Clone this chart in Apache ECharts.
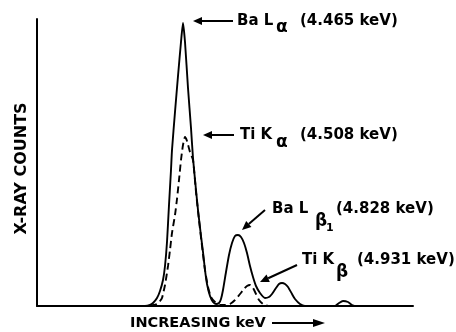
<!DOCTYPE html>
<html>
<head>
<meta charset="utf-8">
<script src="https://cdn.jsdelivr.net/npm/echarts@6/dist/echarts.min.js"></script>
<style>
html, body { margin: 0; padding: 0; background: #fff; }
#main { width: 456px; height: 332px; }
</style>
</head>
<body>
<div id="main"></div>
<script>
// traces, [channel, counts] (arbitrary units)
const solidTrace = [
  [0, 0], [108, 0], [113, 1], [116, 3], [120, 8], [123, 15], [126, 26], [128, 40],
  [130, 64], [132, 101], [134, 136], [135, 156], [138, 194], [141, 230], [144, 264],
  [146, 283], [148, 264], [151, 218], [154, 178], [156, 148], [159, 116], [161, 96],
  [164, 70], [166, 54], [168, 36], [170, 22], [173, 10], [176, 4], [179, 2], [182, 3],
  [184, 7], [186, 16], [189, 34], [192, 51], [195, 63], [198, 70], [201, 71], [204, 69],
  [207, 63], [210, 53], [213, 40], [216, 29], [219, 20], [223, 13], [228, 8], [232, 9],
  [235, 12], [239, 18], [242, 22], [245, 23], [248, 22], [251, 19], [255, 12], [258, 7],
  [263, 2], [268, 0], [298, 0], [302, 3], [306, 5], [311, 4], [315, 1], [320, 0], [376, 0]
];
const dashedTrace = [
  [113, 0], [117, 1], [120, 2], [123, 5], [125, 8], [128, 21], [131, 40], [133, 56],
  [135, 73], [138, 91], [140, 107], [142, 126], [144, 146], [146, 161], [148, 169],
  [150, 165], [153, 154], [156, 146], [159, 114], [162, 86], [165, 60], [168, 36],
  [171, 19], [174, 9], [178, 4], [183, 1], [188, 1], [193, 2], [198, 6], [203, 12],
  [207, 17], [210, 20], [213, 21], [216, 18], [219, 12], [222, 6], [226, 2], [231, 0]
];

// peak labels
const lineNames = ['Ba L', 'Ti K', 'Ba L', 'Ti K'];
const lineSubs = ['α', 'α', 'β', 'β'];
const lineSubIdx = ['', '', '1', ''];
const lineEnergies = ['(4.465 keV)', '(4.508 keV)', '(4.828 keV)', '(4.931 keV)'];
const arrowTips = [[156, 285], [166, 171], [205, 76], [223, 24]];

const xLabel = 'INCREASING keV';
const yLabel = 'X-RAY COUNTS';

// layout of each label relative to the arrow tip (px)
const labelLayout = [
  { tail: [40, 0], name: [44, 0], sub: [83, 7], idx: null, en: [107, 0] },
  { tail: [31, 0], name: [37, 0], sub: [73, 8], idx: null, en: [97, 0] },
  { tail: [23, -20], name: [30, -21], sub: [73, -8], idx: [84, -2], en: [94, -21] },
  { tail: [37, -17], name: [42, -22], sub: [76, -9], idx: null, en: [97, -22] }
];

const FONT = 'DejaVu Sans';

var myChart = echarts.init(document.getElementById('main'));

myChart.setOption({
  animation: false,
  backgroundColor: '#fff',
  grid: { left: 37, right: 43, top: 19, bottom: 26 },
  xAxis: {
    type: 'value', min: 0, max: 376,
    axisLine: { show: true, lineStyle: { color: '#000', width: 2 } },
    axisTick: { show: false }, axisLabel: { show: false }, splitLine: { show: false }
  },
  yAxis: {
    type: 'value', min: 0, max: 287,
    axisLine: { show: true, lineStyle: { color: '#000', width: 2 } },
    axisTick: { show: false }, axisLabel: { show: false }, splitLine: { show: false }
  },
  series: [
    {
      name: 'Ti', type: 'line', data: dashedTrace, showSymbol: false, smooth: 0.2,
      lineStyle: { color: '#000', width: 1.9, type: [7, 4] }
    },
    {
      name: 'Ba', type: 'line', data: solidTrace, showSymbol: false, smooth: 0.2,
      lineStyle: { color: '#000', width: 1.9 }
    }
  ]
});

function arrow(x1, y1, x2, y2, len, half) {
  const a = Math.atan2(y2 - y1, x2 - x1);
  const bx = x2 - len * Math.cos(a), by = y2 - len * Math.sin(a);
  const px = -Math.sin(a) * half, py = Math.cos(a) * half;
  return [
    { type: 'line', shape: { x1: x1, y1: y1, x2: bx, y2: by }, style: { stroke: '#000', lineWidth: 2 } },
    { type: 'polygon', shape: { points: [[x2, y2], [bx + px, by + py], [bx - px, by - py]] }, style: { fill: '#000' } }
  ];
}

function txt(text, x, y, size) {
  return {
    type: 'text', x: x, y: y,
    style: {
      text: text, fill: '#000', font: 'bold ' + size + 'px "' + FONT + '"',
      align: 'left', verticalAlign: 'middle'
    }
  };
}

const graphics = [];
arrowTips.forEach(function (tip, i) {
  const p = myChart.convertToPixel({ gridIndex: 0 }, tip);
  const L = labelLayout[i];
  graphics.push.apply(graphics, arrow(p[0] + L.tail[0], p[1] + L.tail[1], p[0], p[1], 9, 4));
  graphics.push(txt(lineNames[i], p[0] + L.name[0], p[1] + L.name[1], 15));
  graphics.push(txt(lineSubs[i], p[0] + L.sub[0], p[1] + L.sub[1], 17));
  if (L.idx) graphics.push(txt(lineSubIdx[i], p[0] + L.idx[0], p[1] + L.idx[1], 11));
  graphics.push(txt(lineEnergies[i], p[0] + L.en[0], p[1] + L.en[1], 15));
});

// axis titles
const origin = myChart.convertToPixel({ gridIndex: 0 }, [0, 0]);
const yTop = myChart.convertToPixel({ gridIndex: 0 }, [0, 287]);
graphics.push(txt(xLabel, origin[0] + 93, origin[1] + 17, 14.5));
graphics.push.apply(graphics, arrow(origin[0] + 235, origin[1] + 17, origin[0] + 288, origin[1] + 17, 12, 4));
graphics.push({
  type: 'text', x: origin[0] - 15, y: (origin[1] + yTop[1]) / 2 + 6, rotation: Math.PI / 2,
  style: {
    text: yLabel, fill: '#000', font: 'bold 16px "' + FONT + '"',
    align: 'center', verticalAlign: 'middle'
  }
});

myChart.setOption({ graphic: graphics });
</script>
</body>
</html>
